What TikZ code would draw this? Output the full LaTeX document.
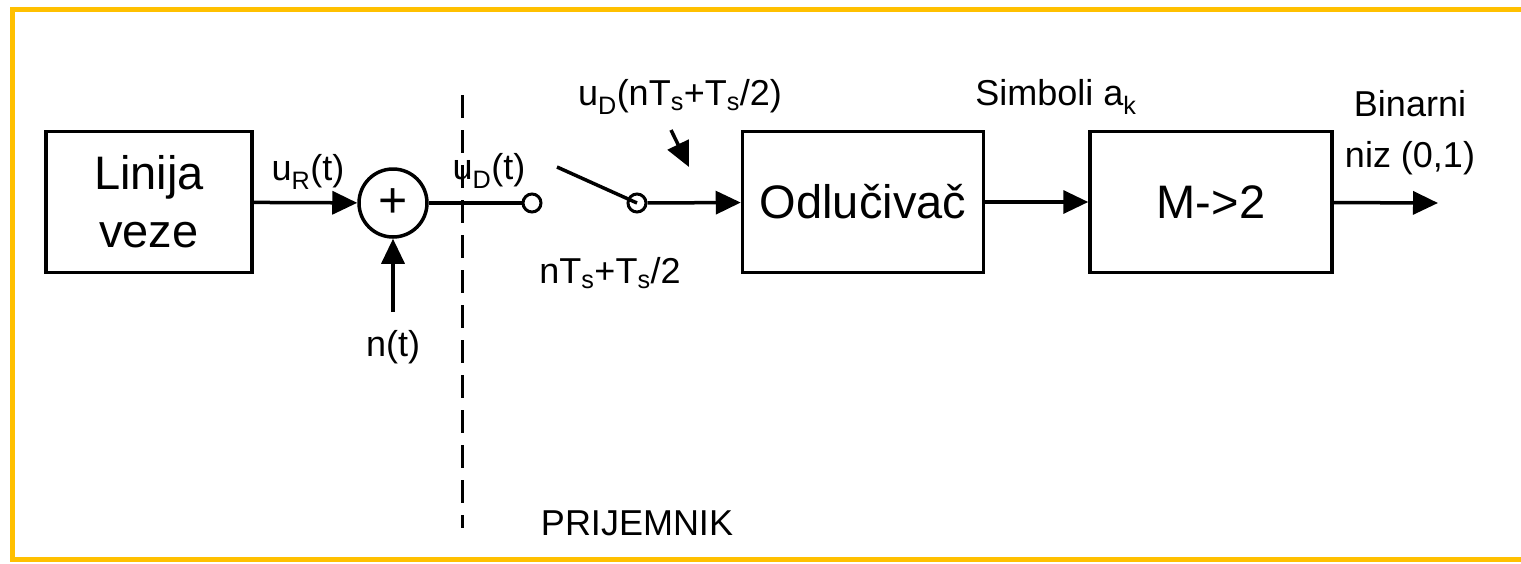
\documentclass[tikz,border=0pt]{standalone}
\usepackage{fontspec}
\setmainfont{Liberation Sans}
\usetikzlibrary{arrows.meta}
\definecolor{frame}{HTML}{FFC000}
\begin{document}
\begin{tikzpicture}[x=1pt,y=-1pt,
  blk/.style={draw,line width=3.5pt,minimum height=141pt,font=\fontsize{47}{58}\selectfont,align=center,inner sep=0pt},
  lbl/.style={font=\fontsize{36}{42}\selectfont,inner sep=0pt},
  wire/.style={line width=3.5pt},
  arr/.style={wire,-{Triangle[length=25pt,width=23pt]}},
  term/.style={circle,draw,line width=3pt,minimum size=18pt,inner sep=0pt}]
\useasboundingbox (0,0) rectangle (1521,563);
\begin{scope}
\clip (0,0) rectangle (1521,563);
\draw[line width=5pt,frame] (12,9) rectangle (1545,559);
\end{scope}
% blocks
\node[blk,minimum width=206pt] (lin) at (149,202) {Linija\\veze};
\node[blk,minimum width=241pt] (odl) at (863,202) {Odlučivač};
\node[blk,minimum width=242pt] (m2) at (1211,202) {M->2};
\node[circle,draw,line width=3.5pt,minimum size=68pt,inner sep=0pt,font=\fontsize{50}{56}\selectfont] (sum) at (393,203) {+};
\node[term] (t1) at (532,203) {};
\node[term] (t2) at (637,203) {};
\coordinate (lev) at (557,167);
\coordinate (nsrc) at (393,312);
\coordinate (sa) at (671,130);
\coordinate (sb) at (689,167);
\coordinate (out) at (1438,203);
\coordinate (dtop) at (462,95);
\coordinate (dbot) at (462,528);
% connectors
\draw[arr] (lin) -- (sum);
\draw[arr] (nsrc) -- (sum);
\draw[wire] (sum) -- (t1);
\draw[wire] (lev) -- (t2.center);
\draw[arr] (t2) -- (odl);
\draw[arr] (sa) -- (sb);
\draw[arr] (odl) -- (m2);
\draw[arr] (m2) -- (out);
\draw[line width=3pt,dash pattern=on 23pt off 12pt] (dtop) -- (dbot);
% labels
\node[lbl] (lur) at (308,172) {u\textsubscript{R}(t)};
\node[lbl] (lnt) at (393,347) {n(t)};
\node[lbl] (lud) at (489,171) {u\textsubscript{D}(t)};
\node[lbl] (luds) at (680,97) {u\textsubscript{D}(nT\textsubscript{s}+T\textsubscript{s}/2)};
\node[lbl] (lsamp) at (610,273) {nT\textsubscript{s}+T\textsubscript{s}/2};
\node[lbl] (lsim) at (1056,97) {Simboli a\textsubscript{k}};
\node[lbl,align=center,font=\fontsize{36}{51}\selectfont] (lbin) at (1410,133) {Binarni\\niz (0,1)};
\node[lbl] (lpri) at (637,523) {PRIJEMNIK};
\end{tikzpicture}
\end{document}
